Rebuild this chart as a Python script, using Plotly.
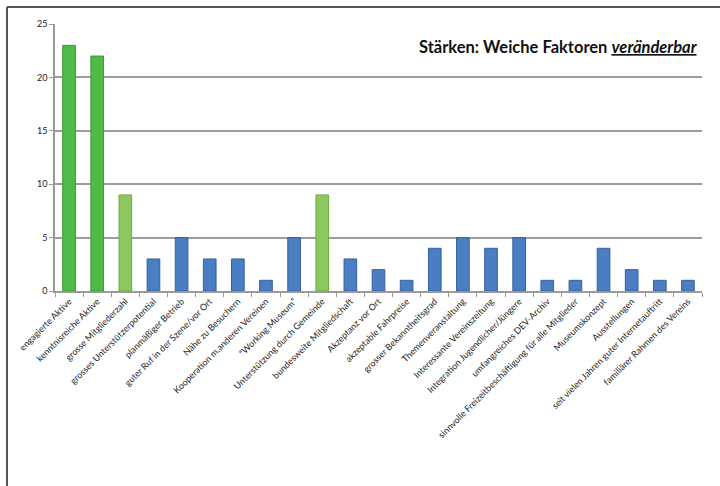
import plotly.graph_objects as go

categories = [
    "engagierte Aktive",
    "kenntnisreiche Aktive",
    "grosse Mitgliederzahl",
    "grosses Unterstützerpotential",
    "planmäßiger Betrieb",
    "guter Ruf in der Szene/vor Ort",
    "Nähe zu Besuchern",
    "Kooperation m.anderen Vereinen",
    "\u201cWorking Museum\u201d",
    "Unterstützung durch Gemeinde",
    "bundesweite Mitgliedschaft",
    "Akzeptanz vor Ort",
    "akzeptable Fahrpreise",
    "grosser Bekanntheitsgrad",
    "Themenveranstaltung",
    "Interessante Vereinszeitung",
    "Integration Jugendlicher/Jüngere",
    "umfangreiches DEV-Archiv",
    "sinnvolle Freizeitbeschäftigung für alle Mitglieder",
    "Museumskonzept",
    "Ausstellungen",
    "seit vielen Jahren guter Internetauftritt",
    "familiärer Rahmen des Vereins",
]
values = [23, 22, 9, 3, 5, 3, 3, 1, 5, 9, 3, 2, 1, 4, 5, 4, 5, 1, 1, 4, 2, 1, 1]
groups = ["dark", "dark", "light", "blue", "blue", "blue", "blue", "blue", "blue", "light",
          "blue", "blue", "blue", "blue", "blue", "blue", "blue", "blue", "blue", "blue",
          "blue", "blue", "blue"]
y_ticks = [0, 5, 10, 15, 20, 25]

palette = {"dark": "#4fba45", "light": "#8cc760", "blue": "#4a7dc2"}
edge = {"dark": "#3a9a33", "light": "#6fa946", "blue": "#35609e"}

W, H = 720, 486
L, R, T, B = 55, 18, 24, 195
pw, ph = W - L - R, H - T - B


def px_x(p):
    return (p - L) / pw


def px_y(p):
    return (H - B - p) / ph


fig = go.Figure(
    go.Bar(
        x=categories,
        y=values,
        marker=dict(color=[palette[g] for g in groups],
                    line=dict(color=[edge[g] for g in groups], width=1)),
        width=0.45,
        hoverinfo="x+y",
    )
)

fig.update_layout(
    width=W,
    height=H,
    margin=dict(l=L, r=R, t=T, b=B),
    paper_bgcolor="white",
    plot_bgcolor="white",
    showlegend=False,
    font=dict(family="Lato, Liberation Sans, sans-serif", color="#222"),
    xaxis=dict(
        tickangle=-45,
        tickfont=dict(size=9, color="#222"),
        ticks="outside",
        tickson="boundaries",
        ticklen=4,
        tickcolor="#999",
        showline=True,
        linecolor="#9a9a9a",
        linewidth=1.5,
        showgrid=False,
    ),
    yaxis=dict(
        range=[0, 25],
        tickvals=y_ticks,
        tickfont=dict(size=9, color="#222"),
        ticks="outside",
        ticklen=4,
        tickcolor="#999",
        showline=True,
        linecolor="#9a9a9a",
        linewidth=1.5,
        showgrid=True,
        gridcolor="#9c9c9c",
        gridwidth=2,
        zeroline=False,
        mirror=False,
    ),
    annotations=[
        dict(
            text="<b>Stärken: Weiche Faktoren <i><u>veränderbar</u></i></b>",
            xref="paper", yref="paper",
            x=px_x(700), y=px_y(47),
            xanchor="right", yanchor="middle",
            showarrow=False,
            font=dict(size=16.5, color="#111", family="Lato, Liberation Sans, sans-serif"),
        )
    ],
    shapes=[
        dict(type="line", xref="paper", yref="paper",
             x0=px_x(7), x1=px_x(7), y0=px_y(7), y1=px_y(H + 5),
             line=dict(color="#555", width=2)),
        dict(type="line", xref="paper", yref="paper",
             x0=px_x(7), x1=px_x(W + 5), y0=px_y(7), y1=px_y(7),
             line=dict(color="#555", width=2)),
    ],
)

fig.write_html("out.html")
